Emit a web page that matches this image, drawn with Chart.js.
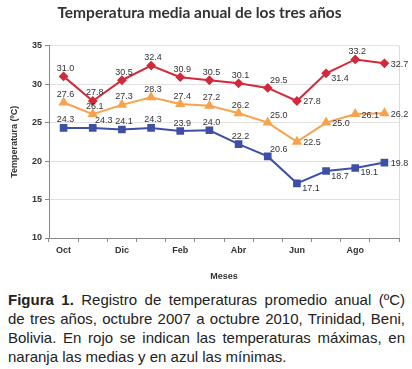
<!DOCTYPE html>
<html>
<head>
<meta charset="utf-8">
<script src="https://cdn.jsdelivr.net/npm/chart.js@4/dist/chart.umd.min.js"></script>
<style>
  html, body { margin: 0; padding: 0; background: #fff; }
  body { width: 412px; height: 369px; overflow: hidden; }
  #wrap { position: relative; width: 412px; height: 286px; }
  #cap {
    margin: 4px 7px 0 8px;
    font-family: "Liberation Sans", Arial, sans-serif;
    font-size: 15px; line-height: 19px; color: #222;
  }
  #cap span { display: block; }
  #cap span.j { text-align: justify; text-align-last: justify; }
</style>
</head>
<body>
<div id="wrap"><canvas id="c"></canvas></div>
<div id="cap"><span class="j"><b>Figura 1.</b> Registro de temperaturas promedio anual (ºC)</span><span class="j">de tres años, octubre 2007 a octubre 2010, Trinidad, Beni,</span><span class="j">Bolivia. En rojo se indican las temperaturas máximas, en</span><span>naranja las medias y en azul las mínimas.</span></div>
<script>
const months = ['Oct','Nov','Dic','Ene','Feb','Mar','Abr','May','Jun','Jul','Ago','Sep'];
const tMax  = [31.0, 27.8, 30.5, 32.4, 30.9, 30.5, 30.1, 29.5, 27.8, 31.4, 33.2, 32.7];
const tMed  = [27.6, 26.1, 27.3, 28.3, 27.4, 27.2, 26.2, 25.0, 22.5, 25.0, 26.1, 26.2];
const tMin  = [24.3, 24.3, 24.1, 24.3, 23.9, 24.0, 22.2, 20.6, 17.1, 18.7, 19.1, 19.8];
const yTicks = [10, 15, 20, 25, 30, 35];

// label placement codes (style, not data)
const posMax = ['a','a','a','a','a','a','a','ar','r','br','a','r'];
const posMed = ['a','a','a','a','a','a','a','ar','r','r','r','r'];
const posMin = ['a','ar','a','a','a','a','a','ar','br','br','br','r'];
const OFF = { a: [2, -8], ar: [11, -7], r: [15, 1], br: [14, 5] };

const labelPlugin = {
  id: 'vlabels',
  afterDatasetsDraw(chart) {
    const ctx = chart.ctx;
    ctx.save();
    ctx.font = '9px "Liberation Sans", Arial, sans-serif';
    ctx.fillStyle = '#333';
    ctx.textAlign = 'center';
    ctx.textBaseline = 'middle';
    chart.data.datasets.forEach((ds, i) => {
      const meta = chart.getDatasetMeta(i);
      meta.data.forEach((pt, j) => {
        const o = OFF[ds.labelPos[j]];
        ctx.fillText(ds.data[j].toFixed(1), pt.x + o[0], pt.y + o[1]);
      });
    });
    ctx.restore();
  },
  beforeDatasetsDraw(chart) {
    const {ctx, chartArea} = chart;
    ctx.save();
    ctx.strokeStyle = '#dcdcdc';
    ctx.lineWidth = 1;
    ctx.beginPath();
    ctx.moveTo(Math.round(chartArea.right) + 0.5, chartArea.top);
    ctx.lineTo(Math.round(chartArea.right) + 0.5, chartArea.bottom);
    ctx.stroke();
    ctx.restore();
  }
};

const tickFont = { family: '"Liberation Sans", Arial, sans-serif', size: 9, weight: 'bold' };

new Chart(document.getElementById('c'), {
  type: 'line',
  data: {
    labels: months,
    datasets: [
      { label: 'Máxima', data: tMax, labelPos: posMax, borderColor: '#D3293A', backgroundColor: '#D3293A',
        borderWidth: 2, pointStyle: 'rectRot', pointRadius: 3.5, pointHoverRadius: 3.5, tension: 0 },
      { label: 'Media', data: tMed, labelPos: posMed, borderColor: '#F9A24C', backgroundColor: '#F9A24C',
        borderWidth: 2, pointStyle: 'triangle', pointRadius: 4, pointHoverRadius: 4, tension: 0 },
      { label: 'Mínima', data: tMin, labelPos: posMin, borderColor: '#3E4FA6', backgroundColor: '#3E4FA6',
        borderWidth: 2, pointStyle: 'rect', pointRadius: 4, pointHoverRadius: 4, tension: 0 }
    ]
  },
  options: {
    responsive: true,
    maintainAspectRatio: false,
    animation: false,
    events: [],
    layout: { padding: { left: 0, right: 13, top: 0, bottom: 0 } },
    plugins: {
      legend: { display: false },
      tooltip: { enabled: false },
      title: {
        display: true,
        text: 'Temperatura media anual de los tres años',
        color: '#333',
        font: { family: 'Lato, "Open Sans", sans-serif', size: 15.5, weight: 'bold' },
        padding: { top: 4, bottom: 23 }
      }
    },
    scales: {
      x: {
        type: 'category',
        offset: true,
        afterFit(s) { s.height = 48; },
        grid: { offset: true, drawOnChartArea: false, drawTicks: true, tickLength: 4, color: '#888' },
        border: { color: '#888', width: 1 },
        ticks: {
          autoSkip: false, maxRotation: 0, padding: 3, color: '#333', font: tickFont,
          callback: (v, i) => (i % 2 === 0 ? months[i] : '')
        },
        title: { display: true, text: 'Meses', color: '#333', font: tickFont, padding: { top: 10 } }
      },
      y: {
        min: 10, max: 35,
        afterFit(s) { s.width = 49; },
        afterBuildTicks(s) { s.ticks = yTicks.map(v => ({ value: v })); },
        grid: { color: '#e0e0e0', drawTicks: true, tickLength: 4, tickColor: '#888' },
        border: { color: '#888', width: 1 },
        ticks: { padding: 3, color: '#333', font: tickFont },
        title: { display: true, text: 'Temperatura (ºC)', color: '#333', font: tickFont, padding: { top: 9 } }
      }
    }
  },
  plugins: [labelPlugin]
});
</script>
</body>
</html>
